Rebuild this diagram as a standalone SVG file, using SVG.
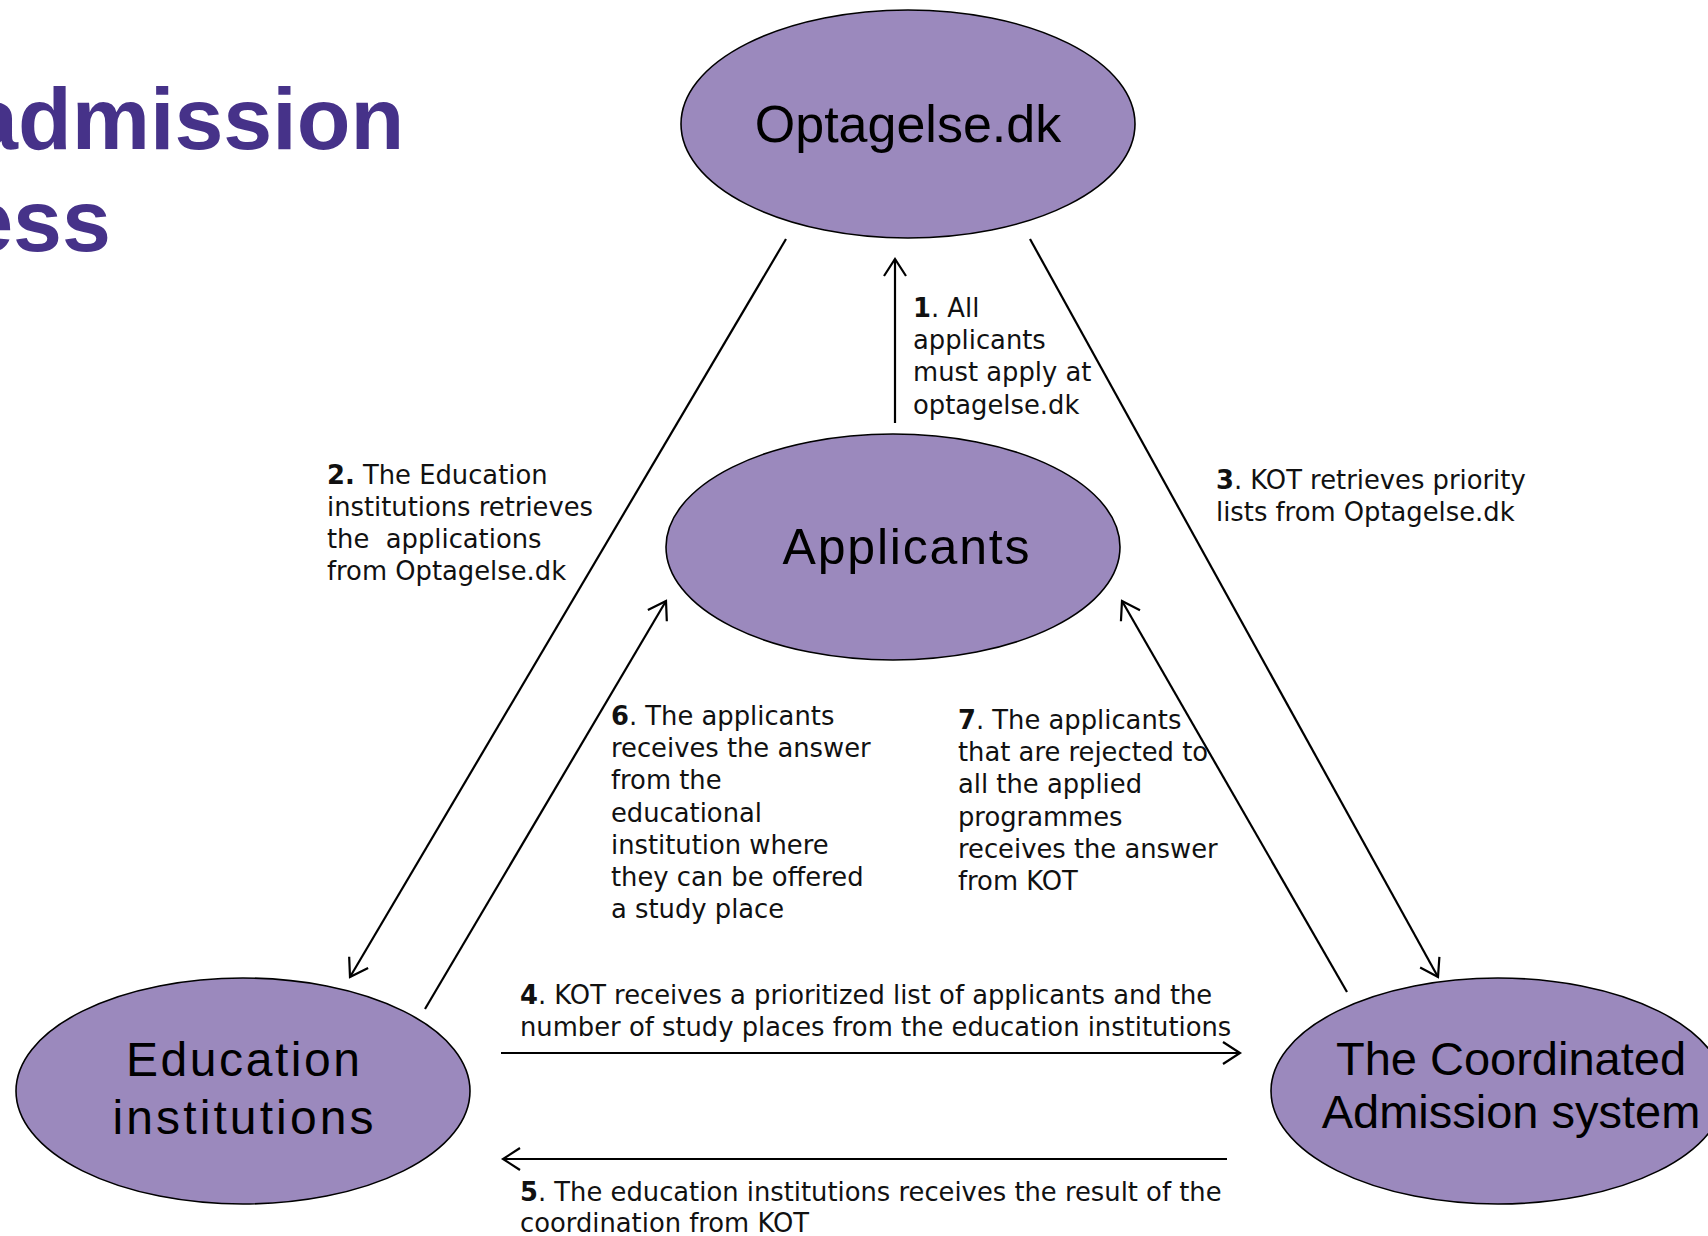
<svg xmlns="http://www.w3.org/2000/svg" width="1708" height="1236" viewBox="0 0 1708 1236">
<defs>
<style>
.node{fill:#9b89bd;stroke:#000;stroke-width:1.6}
.nl{font-family:"Liberation Sans",Arial,sans-serif;fill:#000;text-anchor:middle}
.lbl{font-family:"DejaVu Sans","Liberation Sans",sans-serif;font-size:25.8px;fill:#111}
.b{font-weight:bold}
.con{stroke:#000;stroke-width:2.2;fill:none;marker-end:url(#arr)}
.title{font-family:"Liberation Sans",Arial,sans-serif;font-weight:bold;font-size:88px;fill:#463289}
</style>
<marker id="arr" markerUnits="userSpaceOnUse" markerWidth="40" markerHeight="40" viewBox="-20 -20 40 40" refX="0" refY="0" orient="auto">
<path d="M-17,-11 L0,0 L-17,11" fill="none" stroke="#000" stroke-width="2.2"/>
</marker>
</defs>
<rect width="1708" height="1236" fill="#fff"/>
<g id="title">
<text class="title" x="-31" y="149">admission</text>
<text class="title" x="111" y="251" text-anchor="end">ess</text>
</g>
<g id="connectors">
<line class="con" x1="895" y1="423" x2="895" y2="259"/>
<line class="con" x1="786" y1="239" x2="350" y2="977"/>
<line class="con" x1="425" y1="1009" x2="666" y2="601"/>
<line class="con" x1="1030" y1="239" x2="1438" y2="977"/>
<line class="con" x1="1347" y1="992" x2="1122" y2="601"/>
<line class="con" x1="501" y1="1053" x2="1240" y2="1053"/>
<line class="con" x1="1227" y1="1159" x2="503" y2="1159"/>
</g>
<g id="node-optagelse">
<ellipse class="node" cx="908" cy="124" rx="227" ry="114"/>
<text class="nl" x="908" y="142" font-size="52">Optagelse.dk</text>
</g>
<g id="node-applicants">
<ellipse class="node" cx="893" cy="547" rx="227" ry="113"/>
<text class="nl" x="906" y="564" font-size="50" textLength="247" lengthAdjust="spacing">Applicants</text>
</g>
<g id="node-education">
<ellipse class="node" cx="243" cy="1091" rx="227" ry="113"/>
<text class="nl" x="243" y="1076" font-size="48" textLength="234" lengthAdjust="spacing">Education</text>
<text class="nl" x="243" y="1134" font-size="48" textLength="261" lengthAdjust="spacing">institutions</text>
</g>
<g id="node-kot">
<ellipse class="node" cx="1498" cy="1091" rx="227" ry="113"/>
<text class="nl" x="1511" y="1075" font-size="47">The Coordinated</text>
<text class="nl" x="1511" y="1128" font-size="47">Admission system</text>
</g>
<g id="labels">
<text class="lbl" x="913" y="317"><tspan class="b">1</tspan>. All</text>
<text class="lbl" x="913" y="349">applicants</text>
<text class="lbl" x="913" y="381">must apply at</text>
<text class="lbl" x="913" y="414">optagelse.dk</text>

<text class="lbl" x="327" y="484"><tspan class="b">2.</tspan> The Education</text>
<text class="lbl" x="327" y="516">institutions retrieves</text>
<text class="lbl" x="327" y="548" xml:space="preserve">the  applications</text>
<text class="lbl" x="327" y="580">from Optagelse.dk</text>

<text class="lbl" x="1216" y="489"><tspan class="b">3</tspan>. KOT retrieves priority</text>
<text class="lbl" x="1216" y="521">lists from Optagelse.dk</text>

<text class="lbl" x="611" y="725"><tspan class="b">6</tspan>. The applicants</text>
<text class="lbl" x="611" y="757">receives the answer</text>
<text class="lbl" x="611" y="789">from the</text>
<text class="lbl" x="611" y="822">educational</text>
<text class="lbl" x="611" y="854">institution where</text>
<text class="lbl" x="611" y="886">they can be offered</text>
<text class="lbl" x="611" y="918">a study place</text>

<text class="lbl" x="958" y="729"><tspan class="b">7</tspan>. The applicants</text>
<text class="lbl" x="958" y="761">that are rejected to</text>
<text class="lbl" x="958" y="793">all the applied</text>
<text class="lbl" x="958" y="826">programmes</text>
<text class="lbl" x="958" y="858">receives the answer</text>
<text class="lbl" x="958" y="890">from KOT</text>

<text class="lbl" x="520" y="1004"><tspan class="b">4</tspan>. KOT receives a prioritized list of applicants and the</text>
<text class="lbl" x="520" y="1036">number of study places from the education institutions</text>

<text class="lbl" x="520" y="1201"><tspan class="b">5</tspan>. The education institutions receives the result of the</text>
<text class="lbl" x="520" y="1232">coordination from KOT</text>
</g>
</svg>
